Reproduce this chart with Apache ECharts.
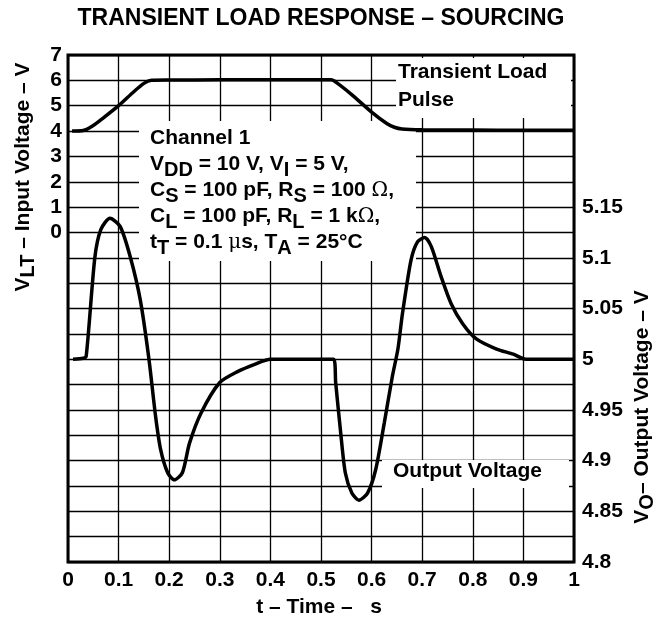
<!DOCTYPE html>
<html>
<head>
<meta charset="utf-8">
<script src="https://cdn.jsdelivr.net/npm/echarts@6/dist/echarts.min.js"></script>
<style>
  html, body { margin: 0; padding: 0; background: #fff; }
  #chart { width: 669px; height: 620px; }
</style>
</head>
<body>
<div id="chart"></div>
<script>
// Tick labels
const timeTickLabels = ['0', '0.1', '0.2', '0.3', '0.4', '0.5', '0.6', '0.7', '0.8', '0.9', '1'];
const inputTickLabels = ['0', '1', '2', '3', '4', '5', '6', '7'];
const outputTickLabels = ['4.8', '4.85', '4.9', '4.95', '5', '5.05', '5.1', '5.15'];

// Transient load pulse (left axis, V)
const pulseTime = [0.008, 0.03, 0.05, 0.07, 0.1, 0.13, 0.15, 0.165, 0.2, 0.3, 0.4, 0.52, 0.53, 0.56, 0.6, 0.63, 0.645, 0.66, 0.7, 0.8, 0.9, 1.0];
const pulseVolt = [4.0, 4.02, 4.22, 4.52, 5.0, 5.55, 5.88, 6.0, 6.01, 6.02, 6.02, 6.02, 5.92, 5.45, 4.75, 4.3, 4.15, 4.08, 4.05, 4.04, 4.03, 4.03];

// Output voltage (right axis, V)
const outTime = [0.01, 0.03, 0.036, 0.053, 0.065, 0.083, 0.103, 0.123, 0.143, 0.16, 0.173, 0.183, 0.197, 0.21, 0.226, 0.24, 0.263, 0.3, 0.336, 0.369, 0.4, 0.525, 0.529, 0.539, 0.548, 0.561, 0.575, 0.592, 0.608, 0.625, 0.641, 0.652, 0.661, 0.678, 0.691, 0.705, 0.718, 0.737, 0.757, 0.78, 0.807, 0.847, 0.88, 0.905, 1.0];
const outVolt = [5.0, 5.001, 5.003, 5.1, 5.128, 5.139, 5.131, 5.101, 5.058, 5.0, 4.944, 4.911, 4.888, 4.881, 4.888, 4.917, 4.947, 4.977, 4.988, 4.995, 5.0, 5.0, 4.977, 4.927, 4.888, 4.868, 4.861, 4.868, 4.891, 4.937, 4.983, 5.01, 5.045, 5.098, 5.116, 5.12, 5.111, 5.082, 5.055, 5.035, 5.02, 5.01, 5.005, 5.0, 5.0];

const FONT = "'Liberation Sans', Arial, Helvetica, sans-serif";
const FS = 21;

const pair = (xs, ys) => xs.map((x, i) => [x, ys[i]]);

// rich-text styles: normal run, subscript run, symbol run
function richStyles(size) {
  return {
    n: { fontFamily: FONT, fontWeight: 'bold', fontSize: size, lineHeight: size + 2, verticalAlign: 'top', fill: '#000', color: '#000' },
    s: { fontFamily: FONT, fontWeight: 'bold', fontSize: size - 1, lineHeight: size + 2, verticalAlign: 'top', padding: [6, 0, 0, 0], fill: '#000', color: '#000' },
    g: { fontFamily: "'DejaVu Serif', serif", fontWeight: 'normal', fontSize: size - 1, lineHeight: size + 2, verticalAlign: 'top', padding: [1, 0, 0, 0], fill: '#000', color: '#000' }
  };
}

function textLine(x, y, text, extra) {
  return Object.assign({
    type: 'text', x: x, y: y, z: 20,
    style: { text: text, rich: richStyles(FS), font: 'bold ' + FS + 'px ' + FONT, fill: '#000', align: 'left', verticalAlign: 'top' }
  }, extra || {});
}

function whiteBox(x, y, w, h) {
  return { type: 'rect', z: 1, shape: { x: x, y: y, width: w, height: h }, style: { fill: '#fff' } };
}

const chart = echarts.init(document.getElementById('chart'), null, { renderer: 'canvas' });

chart.setOption({
  animation: false,
  backgroundColor: '#fff',
  grid: { left: 68, right: 95, top: 55, bottom: 58, show: true, borderColor: '#000', borderWidth: 3, backgroundColor: 'transparent' },
  xAxis: {
    type: 'value', min: 0, max: 1, interval: 0.1,
    axisLine: { show: false }, axisTick: { show: false },
    splitLine: { show: true, lineStyle: { color: '#000', width: 1.3 } },
    axisLabel: {
      margin: 8, color: '#000', fontFamily: FONT, fontWeight: 'bold', fontSize: FS,
      formatter: v => timeTickLabels[Math.round(v * 10)] || ''
    }
  },
  yAxis: [
    {
      type: 'value', min: -13, max: 7, interval: 1, position: 'left',
      axisLine: { show: false }, axisTick: { show: false },
      splitLine: { show: true, lineStyle: { color: '#000', width: 1.3 } },
      axisLabel: {
        margin: 6, color: '#000', fontFamily: FONT, fontWeight: 'bold', fontSize: FS, padding: [8, 0, 0, 0],
        formatter: v => (v >= 0 && v <= 7) ? inputTickLabels[Math.round(v)] : ''
      }
    },
    {
      type: 'value', min: 4.8, max: 5.3, interval: 0.05, position: 'right',
      axisLine: { show: false }, axisTick: { show: false }, splitLine: { show: false },
      axisLabel: {
        margin: 8, color: '#000', fontFamily: FONT, fontWeight: 'bold', fontSize: FS, padding: [8, 0, 0, 0],
        formatter: v => {
          const k = Math.round((v - 4.8) / 0.05);
          return outputTickLabels[k] || '';
        }
      }
    }
  ],
  series: [
    {
      name: 'Transient Load Pulse', type: 'line', yAxisIndex: 0, z: 30,
      data: pair(pulseTime, pulseVolt), showSymbol: false, smooth: 0.25,
      lineStyle: { color: '#000', width: 3.5 }
    },
    {
      name: 'Output Voltage', type: 'line', yAxisIndex: 1, z: 30,
      data: pair(outTime, outVolt), showSymbol: false, smooth: 0.25,
      lineStyle: { color: '#000', width: 3.5 }
    }
  ],
  graphic: [
    // title
    { type: 'text', x: 321, y: 19, z: 20, style: { text: 'TRANSIENT LOAD RESPONSE – SOURCING', font: 'bold 23px ' + FONT, fill: '#000', align: 'center', verticalAlign: 'middle' } },
    // label boxes
    whiteBox(396, 58, 175, 60),
    whiteBox(139, 121, 277, 140),
    whiteBox(382, 460, 187, 28),
    textLine(398, 62, '{n|Transient Load}'),
    textLine(398, 90, '{n|Pulse}'),
    textLine(150, 128, '{n|Channel 1}'),
    textLine(150, 154, '{n|V}{s|DD}{n| = 10 V, V}{s|I}{n| = 5 V,}'),
    textLine(150, 180, '{n|C}{s|S}{n| = 100 pF, R}{s|S}{n| = 100 }{g|Ω}{n|,}'),
    textLine(150, 206, '{n|C}{s|L}{n| = 100 pF, R}{s|L}{n| = 1 k}{g|Ω}{n|,}'),
    textLine(150, 232, '{n|t}{s|T}{n| = 0.1 }{g|μ}{n|s, T}{s|A}{n| = 25°C}'),
    textLine(393, 461, '{n|Output Voltage}'),
    // axis names
    { type: 'text', x: 24, y: 177, rotation: Math.PI / 2, z: 20,
      style: { text: '{n|V}{s|LT}{n| – Input Voltage – V}', rich: richStyles(FS), align: 'center', verticalAlign: 'middle', fill: '#000' } },
    { type: 'text', x: 643, y: 407, rotation: Math.PI / 2, z: 20,
      style: { text: '{n|V}{s|O}{n|– Output Voltage – V}', rich: richStyles(FS), align: 'center', verticalAlign: 'middle', fill: '#000' } },
    { type: 'text', x: 319, y: 607, z: 20,
      style: { text: 't – Time –   s', font: 'bold ' + FS + 'px ' + FONT, fill: '#000', align: 'center', verticalAlign: 'middle' } }
  ]
});
</script>
</body>
</html>
